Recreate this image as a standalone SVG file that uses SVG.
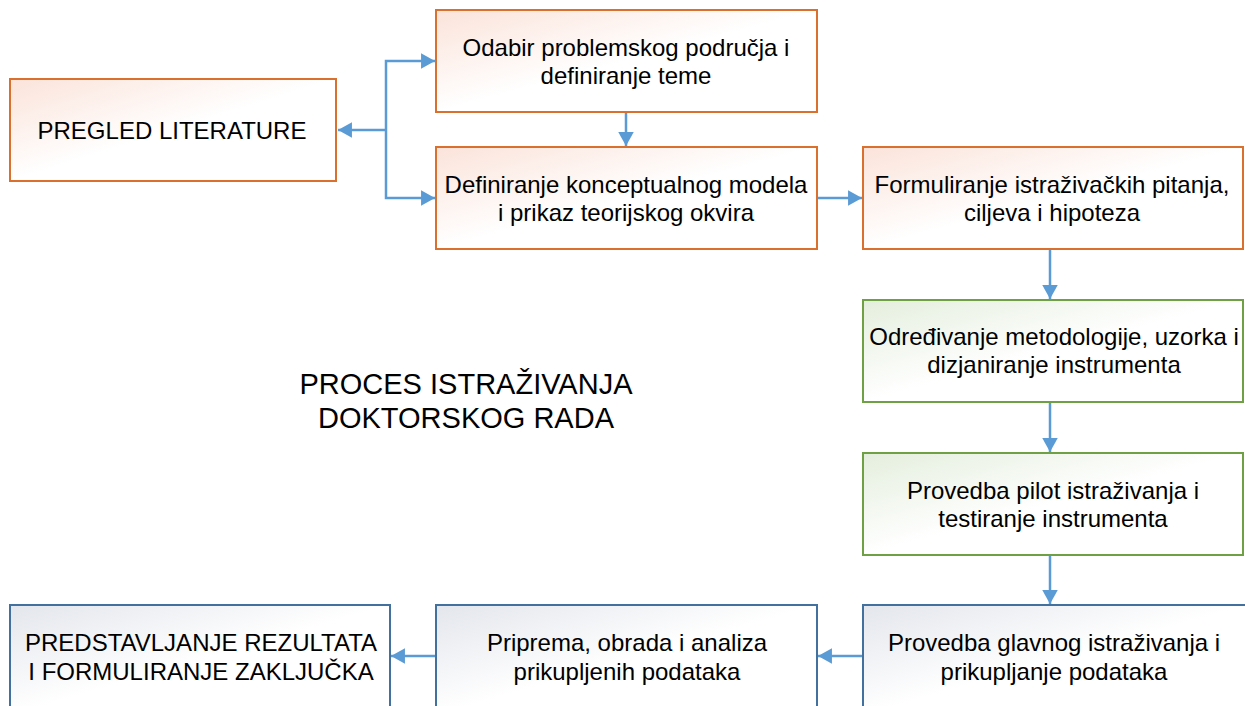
<svg xmlns="http://www.w3.org/2000/svg" width="1245" height="706" viewBox="0 0 1245 706">
<defs>
<linearGradient id="gO" x1="0" y1="0" x2="1" y2="1"><stop offset="0" stop-color="#FBE3DA"/><stop offset="0.5" stop-color="#FFFFFF"/></linearGradient>
<linearGradient id="gG" x1="0" y1="0" x2="1" y2="1"><stop offset="0" stop-color="#E4EEDD"/><stop offset="0.5" stop-color="#FFFFFF"/></linearGradient>
<linearGradient id="gB" x1="0" y1="0" x2="1" y2="1"><stop offset="0" stop-color="#E3E6EC"/><stop offset="0.5" stop-color="#FFFFFF"/></linearGradient>
<marker id="ah" viewBox="0 0 9 10" refX="9" refY="5" markerWidth="5.6" markerHeight="6.2" orient="auto" markerUnits="strokeWidth"><path d="M0,0 L9,5 L0,10 z" fill="#5B9BD5"/></marker>
</defs>
<style>
.o{fill:url(#gO);stroke:#D9702E;stroke-width:2}
.g{fill:url(#gG);stroke:#70A044;stroke-width:2}
.b{fill:url(#gB);stroke:#41719C;stroke-width:2}
text{font-family:"Liberation Sans",Arial,sans-serif;font-size:24px;fill:#000;text-anchor:middle}
.c{fill:none;stroke:#5B9BD5;stroke-width:2.5}
</style>
<rect width="1245" height="706" fill="#fff"/>
<g id="connectors">
<path class="c" d="M386,130 L338,130" marker-end="url(#ah)"/>
<path class="c" d="M386,130 L386,61 L435,61" marker-end="url(#ah)"/>
<path class="c" d="M386,130 L386,198 L435,198" marker-end="url(#ah)"/>
<path class="c" d="M626,112 L626,146" marker-end="url(#ah)"/>
<path class="c" d="M817,198 L862,198" marker-end="url(#ah)"/>
<path class="c" d="M1050,249 L1050,299" marker-end="url(#ah)"/>
<path class="c" d="M1050,402 L1050,452" marker-end="url(#ah)"/>
<path class="c" d="M1050,555 L1050,604" marker-end="url(#ah)"/>
<path class="c" d="M863,656 L818,656" marker-end="url(#ah)"/>
<path class="c" d="M436,656 L391,656" marker-end="url(#ah)"/>
</g>
<g id="n_pregled"><rect class="o" x="10" y="79" width="326" height="102"/><text x="172" y="139">PREGLED LITERATURE</text></g>
<g id="n_odabir"><rect class="o" x="436" y="10" width="381" height="102"/><text x="626" y="56">Odabir problemskog područja i</text><text x="626" y="84">definiranje teme</text></g>
<g id="n_definiranje"><rect class="o" x="436" y="147" width="381" height="102"/><text x="626" y="193">Definiranje konceptualnog modela</text><text x="626" y="221">i prikaz teorijskog okvira</text></g>
<g id="n_formuliranje"><rect class="o" x="863" y="147" width="380" height="102"/><text x="1052" y="193">Formuliranje istraživačkih pitanja,</text><text x="1052" y="221">ciljeva i hipoteza</text></g>
<g id="n_odredivanje"><rect class="g" x="863" y="300" width="380" height="102"/><text x="1054" y="345">Određivanje metodologije, uzorka i</text><text x="1054" y="373">dizjaniranje instrumenta</text></g>
<g id="n_pilot"><rect class="g" x="863" y="453" width="380" height="102"/><text x="1053" y="499">Provedba pilot istraživanja i</text><text x="1053" y="527">testiranje instrumenta</text></g>
<g id="n_glavno"><rect class="b" x="863" y="605" width="384" height="110"/><text x="1054" y="651">Provedba glavnog istraživanja i</text><text x="1054" y="680">prikupljanje podataka</text></g>
<g id="n_priprema"><rect class="b" x="436" y="605" width="381" height="110"/><text x="627" y="651">Priprema, obrada i analiza</text><text x="627" y="680">prikupljenih podataka</text></g>
<g id="n_predstavljanje"><rect class="b" x="10" y="605" width="380" height="110"/><text x="201" y="651">PREDSTAVLJANJE REZULTATA</text><text x="201" y="680">I FORMULIRANJE ZAKLJUČKA</text></g>
<g id="title"><text x="466" y="394" style="font-size:29px">PROCES ISTRAŽIVANJA</text><text x="466" y="428" style="font-size:29px">DOKTORSKOG RADA</text></g>
</svg>
